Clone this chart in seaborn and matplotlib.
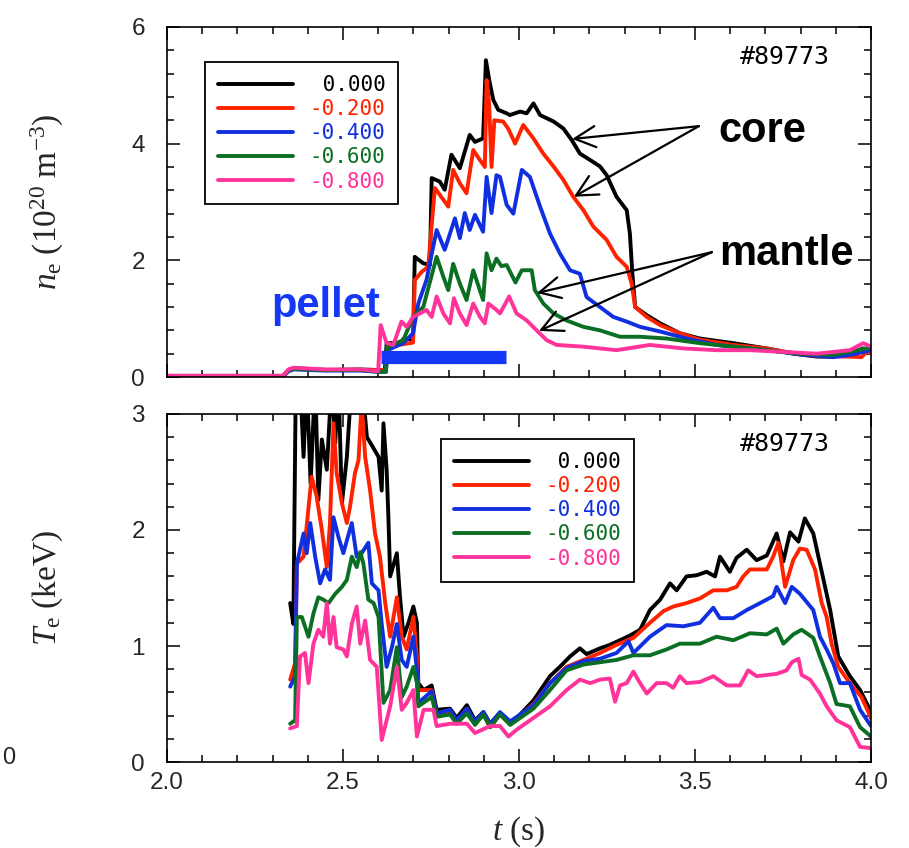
import numpy as np
import pandas as pd
import matplotlib
matplotlib.use('Agg')
import matplotlib.pyplot as plt
import seaborn as sns
from matplotlib.ticker import MultipleLocator

sns.set_theme(style='white')
plt.rcParams['font.family'] = ['Liberation Sans', 'DejaVu Sans']
plt.rcParams['mathtext.fontset'] = 'custom'
plt.rcParams['mathtext.rm'] = 'Liberation Serif'
plt.rcParams['mathtext.it'] = 'Liberation Serif:italic'

# ---------------- data ----------------
rho_labels = ['0.000', '-0.200', '-0.400', '-0.600', '-0.800']
colors = ['#000000', '#ff2200', '#1030e0', '#0a6e23', '#ff3399']
shot_label = '#89773'

# electron density (1e20 m^-3), pairs (t [s], n_e)
ne_000 = [(2.00, 0.01), (2.33, 0.01), (2.345, 0.12), (2.36, 0.15), (2.45, 0.12), (2.55, 0.13),
          (2.600, 0.12), (2.619, 0.12), (2.624, 0.58), (2.666, 0.58), (2.671, 0.65), (2.699, 0.65),
          (2.704, 2.06), (2.728, 1.95), (2.747, 1.92), (2.752, 3.41), (2.775, 3.35), (2.789, 3.21),
          (2.808, 3.81), (2.832, 3.58), (2.860, 4.15), (2.875, 4.03), (2.898, 4.09), (2.906, 5.43),
          (2.917, 5.04), (2.927, 4.75), (2.941, 4.58), (2.965, 4.52), (2.974, 4.49), (3.003, 4.55),
          (3.022, 4.52), (3.041, 4.69), (3.060, 4.49), (3.098, 4.38), (3.126, 4.26), (3.150, 4.06),
          (3.173, 3.83), (3.202, 3.72), (3.230, 3.61), (3.249, 3.46), (3.277, 3.09), (3.306, 2.86),
          (3.315, 2.46), (3.322, 1.78), (3.330, 1.20), (3.363, 1.06), (3.401, 0.92), (3.457, 0.75),
          (3.514, 0.66), (3.609, 0.58), (3.704, 0.49), (3.779, 0.40), (3.846, 0.35), (3.893, 0.35),
          (3.940, 0.40), (3.978, 0.49), (4.000, 0.46)]
ne_020 = [(2.00, 0.02), (2.33, 0.02), (2.345, 0.11), (2.36, 0.14), (2.45, 0.12), (2.55, 0.12),
          (2.600, 0.12), (2.622, 0.12), (2.626, 0.52), (2.699, 0.59), (2.704, 1.66), (2.723, 1.80),
          (2.742, 1.89), (2.761, 3.24), (2.785, 3.04), (2.799, 2.92), (2.813, 3.55), (2.832, 3.32),
          (2.851, 3.15), (2.870, 3.89), (2.889, 3.72), (2.903, 3.60), (2.908, 5.09), (2.915, 4.70),
          (2.922, 3.60), (2.930, 4.40), (2.955, 4.38), (2.970, 4.25), (2.989, 4.00), (3.012, 4.32),
          (3.041, 4.09), (3.069, 3.83), (3.098, 3.61), (3.126, 3.38), (3.154, 3.09), (3.183, 2.86),
          (3.211, 2.58), (3.249, 2.35), (3.277, 2.06), (3.306, 1.89), (3.320, 1.60), (3.330, 1.20),
          (3.363, 1.03), (3.401, 0.89), (3.457, 0.75), (3.514, 0.64), (3.609, 0.55), (3.704, 0.49),
          (3.779, 0.41), (3.846, 0.36), (3.940, 0.35), (3.973, 0.34), (3.988, 0.44), (4.000, 0.40)]
ne_040 = [(2.00, 0.01), (2.33, 0.01), (2.345, 0.10), (2.36, 0.13), (2.45, 0.11), (2.55, 0.11),
          (2.600, 0.09), (2.622, 0.09), (2.626, 0.46), (2.671, 0.58), (2.699, 0.75), (2.714, 1.26),
          (2.737, 1.66), (2.766, 2.52), (2.789, 2.18), (2.818, 2.72), (2.832, 2.38), (2.846, 2.81),
          (2.860, 2.52), (2.875, 2.78), (2.898, 2.49), (2.908, 3.43), (2.922, 2.81), (2.936, 3.46),
          (2.946, 3.43), (2.965, 2.95), (2.984, 2.80), (3.008, 3.55), (3.031, 3.43), (3.060, 2.92),
          (3.088, 2.46), (3.116, 2.12), (3.145, 1.83), (3.173, 1.77), (3.192, 1.37), (3.230, 1.20),
          (3.268, 1.03), (3.306, 0.95), (3.344, 0.86), (3.401, 0.78), (3.476, 0.66), (3.561, 0.55),
          (3.704, 0.46), (3.798, 0.39), (3.893, 0.34), (3.950, 0.39), (4.000, 0.46)]
ne_060 = [(2.00, 0.02), (2.33, 0.02), (2.345, 0.12), (2.36, 0.14), (2.45, 0.12), (2.55, 0.12),
          (2.600, 0.09), (2.622, 0.09), (2.626, 0.52), (2.671, 0.63), (2.699, 1.03), (2.728, 1.20),
          (2.766, 2.06), (2.785, 1.72), (2.799, 1.49), (2.813, 1.94), (2.832, 1.60), (2.851, 1.32),
          (2.870, 1.83), (2.898, 1.32), (2.908, 2.12), (2.922, 1.83), (2.936, 2.03), (2.950, 1.90),
          (2.965, 1.92), (2.990, 1.62), (3.008, 1.83), (3.036, 1.83), (3.045, 1.49), (3.069, 1.26),
          (3.098, 1.09), (3.135, 0.97), (3.183, 0.86), (3.230, 0.80), (3.287, 0.69), (3.344, 0.69),
          (3.419, 0.66), (3.514, 0.58), (3.609, 0.52), (3.704, 0.46), (3.798, 0.40), (3.893, 0.38),
          (3.988, 0.49), (4.000, 0.52)]
ne_080 = [(2.00, 0.02), (2.33, 0.02), (2.345, 0.13), (2.36, 0.16), (2.45, 0.13), (2.55, 0.13),
          (2.600, 0.10), (2.607, 0.89), (2.624, 0.58), (2.643, 0.55), (2.666, 0.95), (2.681, 0.86),
          (2.699, 1.03), (2.737, 1.15), (2.752, 1.03), (2.766, 1.38), (2.785, 1.09), (2.804, 0.92),
          (2.815, 1.35), (2.832, 1.09), (2.851, 0.89), (2.870, 1.26), (2.889, 1.03), (2.903, 0.92),
          (2.913, 1.26), (2.936, 1.15), (2.946, 1.09), (2.972, 1.38), (2.993, 1.09), (3.022, 0.97),
          (3.050, 0.80), (3.079, 0.63), (3.107, 0.55), (3.183, 0.52), (3.277, 0.46), (3.372, 0.55),
          (3.467, 0.49), (3.561, 0.46), (3.656, 0.46), (3.751, 0.43), (3.846, 0.40), (3.940, 0.46),
          (3.978, 0.58), (4.000, 0.52)]

# electron temperature (keV), pairs (t [s], T_e)
te_000 = [(2.350, 1.37), (2.359, 1.19), (2.366, 3.30), (2.378, 3.30), (2.388, 2.63), (2.397, 3.30),
          (2.408, 2.40), (2.421, 3.30), (2.430, 2.26), (2.440, 2.78), (2.454, 2.52), (2.468, 3.30),
          (2.478, 2.75), (2.487, 3.30), (2.497, 2.23), (2.511, 2.63), (2.525, 3.30), (2.553, 3.30),
          (2.568, 2.80), (2.582, 2.73), (2.601, 2.63), (2.610, 2.34), (2.615, 2.92), (2.624, 2.52),
          (2.629, 2.11), (2.634, 1.60), (2.653, 1.80), (2.662, 1.42), (2.672, 1.08), (2.686, 1.20),
          (2.700, 1.34), (2.710, 1.20), (2.714, 0.68), (2.729, 0.62), (2.752, 0.66), (2.766, 0.45),
          (2.804, 0.46), (2.823, 0.38), (2.852, 0.49), (2.875, 0.36), (2.899, 0.43), (2.918, 0.33),
          (2.946, 0.42), (2.975, 0.33), (2.994, 0.38), (3.041, 0.53), (3.088, 0.74), (3.116, 0.82),
          (3.145, 0.91), (3.173, 0.98), (3.192, 0.93), (3.230, 0.98), (3.258, 1.01), (3.287, 1.05),
          (3.315, 1.09), (3.344, 1.14), (3.372, 1.31), (3.401, 1.40), (3.429, 1.54), (3.448, 1.48),
          (3.476, 1.60), (3.505, 1.61), (3.533, 1.64), (3.557, 1.60), (3.571, 1.77), (3.599, 1.64),
          (3.618, 1.76), (3.647, 1.83), (3.675, 1.74), (3.704, 1.78), (3.732, 1.97), (3.751, 1.73),
          (3.770, 1.98), (3.794, 1.90), (3.812, 2.10), (3.836, 1.97), (3.855, 1.71), (3.884, 1.31),
          (3.907, 0.91), (3.940, 0.74), (3.969, 0.62), (3.997, 0.45), (4.000, 0.38)]
te_020 = [(2.350, 0.71), (2.364, 0.85), (2.369, 1.71), (2.388, 1.77), (2.411, 2.46), (2.425, 2.29),
          (2.440, 2.00), (2.454, 1.68), (2.463, 2.06), (2.473, 2.92), (2.482, 2.49), (2.497, 2.23),
          (2.511, 2.06), (2.520, 2.20), (2.534, 2.49), (2.544, 2.60), (2.553, 3.10), (2.563, 2.63),
          (2.577, 2.34), (2.591, 1.97), (2.605, 1.77), (2.620, 1.37), (2.634, 1.08), (2.653, 1.42),
          (2.667, 1.08), (2.681, 0.97), (2.700, 1.25), (2.710, 0.91), (2.714, 0.62), (2.752, 0.62),
          (2.766, 0.42), (2.804, 0.43), (2.823, 0.35), (2.852, 0.46), (2.875, 0.33), (2.899, 0.41),
          (2.918, 0.30), (2.946, 0.41), (2.975, 0.33), (3.041, 0.50), (3.088, 0.68), (3.135, 0.82),
          (3.183, 0.88), (3.230, 0.94), (3.277, 1.01), (3.325, 1.07), (3.372, 1.20), (3.410, 1.30),
          (3.438, 1.34), (3.476, 1.37), (3.514, 1.41), (3.552, 1.48), (3.590, 1.48), (3.618, 1.51),
          (3.637, 1.60), (3.656, 1.66), (3.704, 1.66), (3.722, 1.77), (3.737, 1.89), (3.756, 1.51),
          (3.779, 1.74), (3.798, 1.84), (3.817, 1.83), (3.841, 1.66), (3.860, 1.37), (3.874, 1.25),
          (3.888, 1.02), (3.907, 0.82), (3.940, 0.68), (3.973, 0.56), (4.000, 0.38)]
te_040 = [(2.350, 0.65), (2.364, 0.74), (2.369, 1.71), (2.388, 1.97), (2.397, 1.80), (2.407, 2.06),
          (2.421, 1.77), (2.435, 1.54), (2.449, 1.66), (2.463, 1.57), (2.473, 2.11), (2.487, 1.94),
          (2.501, 1.80), (2.511, 1.91), (2.525, 2.06), (2.539, 1.77), (2.553, 1.80), (2.572, 1.89),
          (2.582, 1.54), (2.601, 1.48), (2.610, 1.19), (2.624, 0.82), (2.639, 0.99), (2.653, 1.19),
          (2.667, 0.88), (2.681, 0.82), (2.700, 1.08), (2.710, 0.79), (2.714, 0.51), (2.752, 0.61),
          (2.766, 0.42), (2.804, 0.45), (2.823, 0.36), (2.852, 0.46), (2.875, 0.35), (2.899, 0.43),
          (2.918, 0.33), (2.946, 0.43), (2.975, 0.35), (3.041, 0.49), (3.088, 0.68), (3.135, 0.81),
          (3.183, 0.87), (3.230, 0.89), (3.277, 0.94), (3.311, 1.04), (3.325, 0.94), (3.372, 1.08),
          (3.419, 1.18), (3.467, 1.17), (3.514, 1.20), (3.552, 1.33), (3.571, 1.24), (3.609, 1.24),
          (3.647, 1.31), (3.685, 1.37), (3.722, 1.43), (3.732, 1.51), (3.756, 1.37), (3.775, 1.51),
          (3.798, 1.45), (3.836, 1.31), (3.855, 1.08), (3.874, 0.97), (3.893, 0.85), (3.912, 0.68),
          (3.940, 0.68), (3.969, 0.45), (4.000, 0.31)]
te_060 = [(2.350, 0.33), (2.364, 0.36), (2.369, 1.25), (2.383, 1.25), (2.402, 1.08), (2.416, 1.28),
          (2.430, 1.42), (2.444, 1.40), (2.459, 1.37), (2.478, 1.45), (2.497, 1.51), (2.511, 1.57),
          (2.525, 1.77), (2.539, 1.68), (2.549, 1.81), (2.558, 1.71), (2.572, 1.40), (2.587, 1.37),
          (2.601, 1.25), (2.615, 0.51), (2.634, 0.62), (2.653, 0.99), (2.667, 0.56), (2.681, 0.65),
          (2.700, 0.82), (2.710, 0.68), (2.714, 0.48), (2.752, 0.56), (2.766, 0.39), (2.804, 0.41),
          (2.823, 0.33), (2.852, 0.42), (2.875, 0.32), (2.899, 0.41), (2.918, 0.30), (2.946, 0.41),
          (2.975, 0.32), (3.041, 0.46), (3.088, 0.62), (3.135, 0.79), (3.183, 0.84), (3.230, 0.86),
          (3.277, 0.88), (3.325, 0.92), (3.372, 0.92), (3.419, 0.97), (3.457, 1.02), (3.514, 1.02),
          (3.561, 1.08), (3.609, 1.05), (3.656, 1.11), (3.704, 1.10), (3.732, 1.15), (3.751, 1.02),
          (3.779, 1.10), (3.803, 1.14), (3.836, 1.07), (3.855, 0.91), (3.884, 0.68), (3.902, 0.50),
          (3.940, 0.48), (3.969, 0.30), (4.000, 0.22)]
te_080 = [(2.350, 0.29), (2.369, 0.31), (2.378, 0.91), (2.392, 0.94), (2.402, 0.68), (2.416, 1.02),
          (2.430, 1.14), (2.444, 1.08), (2.454, 1.37), (2.463, 1.02), (2.473, 1.25), (2.482, 0.99),
          (2.501, 0.97), (2.511, 0.91), (2.525, 1.19), (2.539, 1.34), (2.549, 1.02), (2.563, 1.22),
          (2.577, 0.88), (2.596, 0.82), (2.610, 0.19), (2.624, 0.36), (2.634, 0.48), (2.653, 0.82),
          (2.667, 0.45), (2.681, 0.51), (2.700, 0.62), (2.710, 0.22), (2.729, 0.45), (2.757, 0.45),
          (2.766, 0.31), (2.804, 0.33), (2.852, 0.33), (2.875, 0.25), (2.918, 0.31), (2.946, 0.31),
          (2.970, 0.22), (2.994, 0.28), (3.041, 0.38), (3.088, 0.48), (3.135, 0.62), (3.173, 0.71),
          (3.202, 0.68), (3.230, 0.71), (3.258, 0.72), (3.273, 0.52), (3.287, 0.66), (3.306, 0.68),
          (3.325, 0.78), (3.344, 0.68), (3.363, 0.59), (3.391, 0.68), (3.419, 0.68), (3.438, 0.64),
          (3.457, 0.74), (3.476, 0.68), (3.514, 0.69), (3.552, 0.74), (3.590, 0.66), (3.628, 0.66),
          (3.651, 0.79), (3.675, 0.74), (3.704, 0.75), (3.732, 0.76), (3.760, 0.79), (3.775, 0.86),
          (3.794, 0.89), (3.803, 0.75), (3.827, 0.71), (3.855, 0.59), (3.874, 0.48), (3.902, 0.36),
          (3.940, 0.30), (3.969, 0.13), (4.000, 0.12)]

ne_series = [ne_000, ne_020, ne_040, ne_060, ne_080]
te_series = [te_000, te_020, te_040, te_060, te_080]

# annotations (data coordinates of the top panel)
pellet_start, pellet_end, pellet_level = 2.608, 2.963, 0.335
core_from = (3.511, 4.30)
core_to = [(3.151, 4.08), (3.156, 3.09)]
mantle_from = (3.548, 2.14)
mantle_to = [(3.051, 1.44), (3.057, 0.79)]


def to_frame(series):
    rows = []
    for lab, pairs in zip(rho_labels, series):
        for t, v in pairs:
            rows.append((t, v, lab))
    return pd.DataFrame(rows, columns=['t', 'v', 'rho'])


df_ne = to_frame(ne_series)
df_te = to_frame(te_series)
palette = dict(zip(rho_labels, colors))

# ---------------- figure ----------------
fig = plt.figure(figsize=(9.09, 8.48), dpi=100)
ax1 = fig.add_axes([0.1837, 0.5554, 0.7745, 0.4128])
ax2 = fig.add_axes([0.1837, 0.1014, 0.7745, 0.4104])

for ax, df in ((ax1, df_ne), (ax2, df_te)):
    sns.lineplot(data=df, x='t', y='v', hue='rho', hue_order=rho_labels, palette=palette,
                 estimator=None, sort=False, lw=2.8, legend=False, ax=ax)

for ax in (ax1, ax2):
    ax.set_xlim(2.0, 4.0)
    ax.xaxis.set_major_locator(MultipleLocator(0.5))
    ax.xaxis.set_minor_locator(MultipleLocator(0.1))
    ax.tick_params(which='both', direction='in', top=True, right=True, bottom=True, left=True,
                   color='black', width=1.1)
    ax.tick_params(which='major', length=9.5)
    ax.tick_params(which='minor', length=5)
    ax.tick_params(axis='y', pad=16, labelsize=17.5)
    ax.tick_params(axis='x', pad=7, labelsize=17.5)
    for s in ax.spines.values():
        s.set_color('black')
        s.set_linewidth(1.2)
    ax.set_facecolor('white')
    ax.set_xlabel('')
    ax.set_ylabel('')

ax1.set_ylim(0, 6)
ax1.yaxis.set_major_locator(MultipleLocator(2))
ax1.yaxis.set_minor_locator(MultipleLocator(0.4))
ax1.tick_params(axis='x', labelbottom=False)
ax2.set_ylim(0, 3)
ax2.yaxis.set_major_locator(MultipleLocator(1))
ax2.yaxis.set_minor_locator(MultipleLocator(0.2))
ax2.set_xticks([2.0, 2.5, 3.0, 3.5, 4.0])
ax2.set_xticklabels(['2.0', '2.5', '3.0', '3.5', '4.0'])

# legends
leg_labels = [' ' + l if not l.startswith('-') else l for l in rho_labels]
for ax, anchor in ((ax1, (0.054, 0.90)), (ax2, (0.389, 0.928))):
    handles = ax.get_lines()[:5]
    leg = ax.legend(handles, leg_labels, loc='upper left', bbox_to_anchor=anchor,
                    borderaxespad=0, frameon=True, fancybox=False, framealpha=1,
                    edgecolor='black', handlelength=3.6, handletextpad=0.8,
                    labelspacing=0.2, borderpad=0.62,
                    prop=dict(family='DejaVu Sans Mono', size=15), labelcolor='linecolor')
    leg.get_frame().set_linewidth(1.3)
    ax.text(0.942, 0.914, shot_label, transform=ax.transAxes, ha='right', va='center',
            family='DejaVu Sans Mono', fontsize=18, color='black')

# pellet bar and labels
ax1.plot([pellet_start, pellet_end], [pellet_level, pellet_level], color='#1438f5', lw=9.5,
         solid_capstyle='butt')
ax1.text(2.295, 1.03, 'pellet', color='#1438f5', fontsize=30, fontweight='bold',
         family='Liberation Sans', ha='left', va='baseline')
ax1.text(3.565, 4.03, 'core', color='black', fontsize=30, fontweight='bold',
         family='Liberation Sans', ha='left', va='baseline')
ax1.text(3.568, 1.92, 'mantle', color='black', fontsize=30, fontweight='bold',
         family='Liberation Sans', ha='left', va='baseline')
aprops = dict(arrowstyle='->,head_length=0.75,head_width=0.38', lw=1.6, color='black',
              shrinkA=0, shrinkB=0, mutation_scale=20)
for tgt in core_to:
    ax1.annotate('', xy=tgt, xytext=core_from, arrowprops=aprops)
for tgt in mantle_to:
    ax1.annotate('', xy=tgt, xytext=mantle_from, arrowprops=aprops)

# axis labels
ax1.set_ylabel(r'$n_{\rm e}\ (10^{20}\ {\rm m}^{-3})$', fontsize=24)
ax1.yaxis.set_label_coords(-0.17, 0.5)
ax2.set_ylabel(r'$T_{\rm e}\ ({\rm keV})$', fontsize=24)
ax2.yaxis.set_label_coords(-0.17, 0.5)
ax2.set_xlabel(r'$t\ ({\rm s})$', fontsize=24)
ax2.xaxis.set_label_coords(0.5, -0.20)
ax2.xaxis.label.set_va('center')
ax1.yaxis.label.set_va('center')
ax2.yaxis.label.set_va('center')

# partial label seen at the left edge of the reference
fig.text(0.002, 0.106, '0', ha='left', va='center', fontsize=17, family='Liberation Sans')

fig.savefig('out.png', dpi=100, facecolor='white')
